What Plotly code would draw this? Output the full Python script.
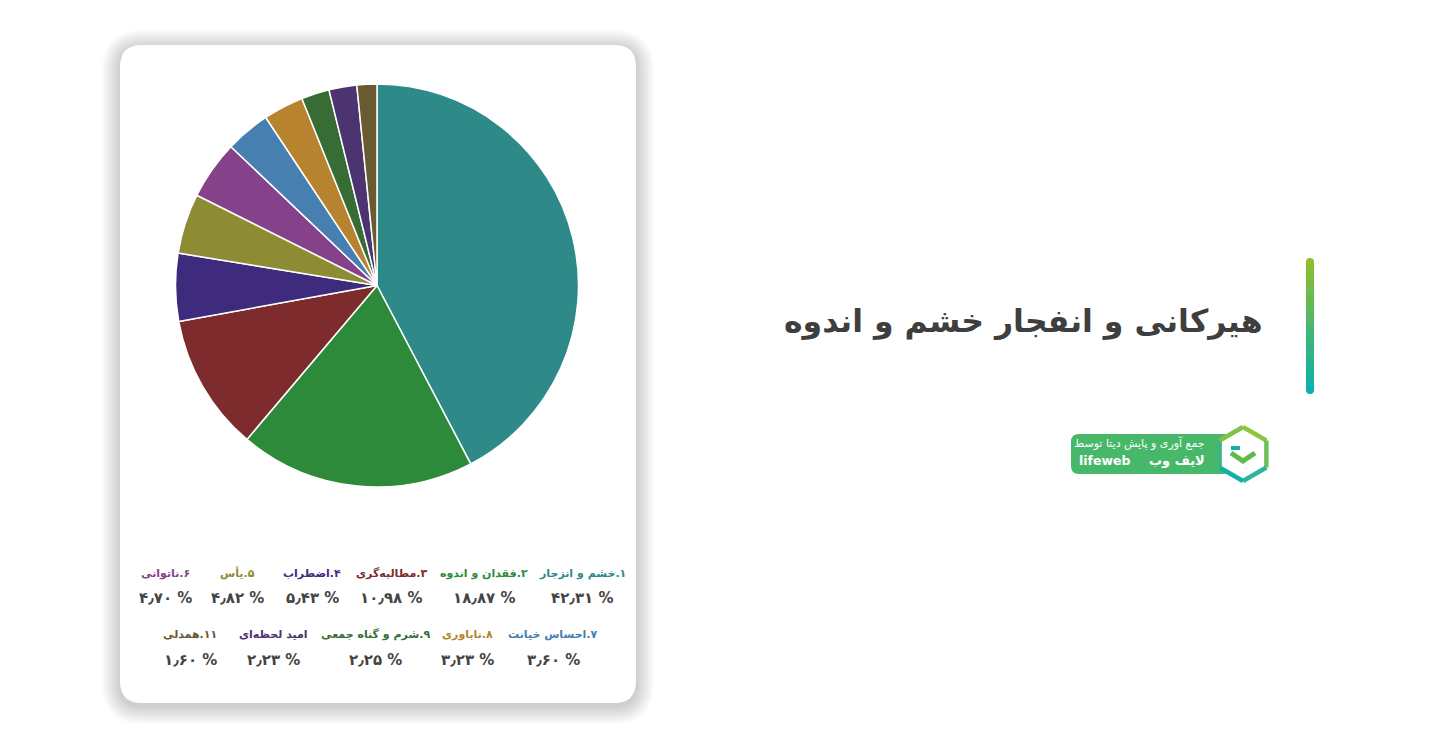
import math
import plotly.graph_objects as go

# ---------------- data ----------------
labels = ["۱.خشم و انزجار", "۲.فقدان و اندوه", "۳.مطالبه‌گری", "۴.اضطراب", "۵.یأس", "۶.ناتوانی",
          "۷.احساس خیانت", "۸.ناباوری", "۹.شرم و گناه جمعی", "امید لحظه‌ای", "۱۱.همدلی"]
values = [42.31, 18.87, 10.98, 5.43, 4.82, 4.70, 3.60, 3.23, 2.25, 2.23, 1.60]
title_text = "هیرکانی و انفجار خشم و اندوه"

# ---------------- styles ----------------
colors = ["#2E8A89", "#2E8A3B", "#7E2B2E", "#3F2B7D", "#8D8C35", "#86418B",
          "#467FB0", "#B7832F", "#376D34", "#4B346F", "#6A5A31"]
OFF = 8                      # default page body margin
W, H = 1430 - 2 * OFF, 748 - 2 * OFF
FONT = "DejaVu Sans, Noto Sans, sans-serif"

# legend layout (page pixel centres)
legend_x = [582, 484, 391, 312, 237, 165, 553, 467, 375, 273, 190]
legend_row = [0, 0, 0, 0, 0, 0, 1, 1, 1, 1, 1]
row_label_y = [573, 634]
row_value_y = [598, 660]

PER = str.maketrans("0123456789", "۰۱۲۳۴۵۶۷۸۹")


def fmt(v):
    return ("%.2f" % v).replace(".", "\u066B").translate(PER) + " %"


def rrect(x0, y0, x1, y1, r):
    return (f"M {x0+r},{y0} L {x1-r},{y0} Q {x1},{y0} {x1},{y0+r} L {x1},{y1-r} "
            f"Q {x1},{y1} {x1-r},{y1} L {x0+r},{y1} Q {x0},{y1} {x0},{y1-r} "
            f"L {x0},{y0+r} Q {x0},{y0} {x0+r},{y0} Z")


def lerp_col(c0, c1, t):
    a = [int(c0[i:i + 2], 16) for i in (1, 3, 5)]
    b = [int(c1[i:i + 2], 16) for i in (1, 3, 5)]
    return "#%02x%02x%02x" % tuple(round(a[k] + (b[k] - a[k]) * t) for k in range(3))


fig = go.Figure()

# pie: centre / radius in page pixels
cx, cy, rad = 377, 285.5, 201.5
fig.add_trace(go.Pie(
    labels=labels, values=values, sort=False, direction="clockwise", rotation=0,
    marker=dict(colors=colors, line=dict(color="white", width=1.5)),
    textinfo="none", hoverinfo="label+percent", showlegend=False,
    domain=dict(x=[(cx - rad - OFF) / W, (cx + rad - OFF) / W],
                y=[1 - (cy + rad - OFF) / H, 1 - (cy - rad - OFF) / H]),
))

shapes = []
# card shadow (soft, layered)
for k in range(12, 0, -1):
    grow = 1.5 * k
    shapes.append(dict(type="path", xref="x", yref="y", layer="below",
                       path=rrect(120 - grow, 45 - grow + 3, 636 + grow, 703 + grow + 3, 22 + grow),
                       fillcolor="rgba(0,0,0,0.017)", line=dict(width=0)))
shapes.append(dict(type="path", xref="x", yref="y", layer="below",
                   path=rrect(120, 45, 636, 703, 22), fillcolor="white", line=dict(width=0)))

# gradient bar
n = 44
y0, y1 = 262, 390
shapes.append(dict(type="path", xref="x", yref="y",
                   path=rrect(1306, 258, 1314, 266, 4), fillcolor="#8CBE2E", line=dict(width=0)))
shapes.append(dict(type="path", xref="x", yref="y",
                   path=rrect(1306, 386, 1314, 394, 4), fillcolor="#0AB0AA", line=dict(width=0)))
for i in range(n):
    ya = y0 + (y1 - y0) * i / n
    yb = y0 + (y1 - y0) * (i + 1) / n + 0.6
    shapes.append(dict(type="rect", xref="x", yref="y", x0=1306, x1=1314, y0=ya, y1=yb,
                       fillcolor=lerp_col("#8CBE2E", "#0AB0AA", i / (n - 1)), line=dict(width=0)))

# logo pill
shapes.append(dict(type="path", xref="x", yref="y",
                   path=rrect(1071, 434, 1232, 474, 8), fillcolor="#47B86A", line=dict(width=0)))
# hexagon
hcx, hcy, hr = 1243, 454, 27
pts = [(hcx + hr * math.cos(math.radians(a)), hcy + hr * math.sin(math.radians(a)))
       for a in (-90, -30, 30, 90, 150, 210)]
shapes.append(dict(type="path", xref="x", yref="y",
                   path="M " + " L ".join(f"{x},{y}" for x, y in pts) + " Z",
                   fillcolor="white", line=dict(width=0)))
edge_cols = ["#8CC63F", "#6CC05A", "#2DB49A", "#14AFA8", "#3FB57E", "#7CC348"]
for k in range(6):
    xa, ya_ = pts[k]
    xb, yb_ = pts[(k + 1) % 6]
    shapes.append(dict(type="line", xref="x", yref="y", x0=xa, y0=ya_, x1=xb, y1=yb_,
                       line=dict(color=edge_cols[k], width=4.5)))
# inner icon (chevron + bar)
shapes.append(dict(type="path", xref="x", yref="y",
                   path=f"M {hcx-12},{hcy-1} L {hcx},{hcy+7} L {hcx+12},{hcy-1}",
                   line=dict(color="#5DBB46", width=5)))
shapes.append(dict(type="line", xref="x", yref="y", x0=hcx - 12, y0=hcy - 6, x1=hcx - 3, y1=hcy - 6,
                   line=dict(color="#14AFA8", width=4)))

annotations = []
# title
annotations.append(dict(text="<b>" + title_text + "</b>", x=1265, y=321, xref="x", yref="y",
                        xanchor="right", yanchor="middle", showarrow=False,
                        font=dict(family=FONT, size=31.5, color="#3E3E3E")))
# logo texts
annotations.append(dict(text="\u200fجمع آوری و پایش دیتا توسط", x=1207, y=443, xref="x", yref="y",
                        xanchor="right", yanchor="middle", showarrow=False,
                        font=dict(family=FONT, size=11, color="white")))
annotations.append(dict(text="<b>\u200fلایف وب</b>", x=1207, y=460, xref="x", yref="y",
                        xanchor="right", yanchor="middle", showarrow=False,
                        font=dict(family=FONT, size=13, color="white")))
annotations.append(dict(text="<b>lifeweb</b>", x=1077, y=460, xref="x", yref="y",
                        xanchor="left", yanchor="middle", showarrow=False,
                        font=dict(family=FONT, size=12.5, color="white")))

# legend
for i, (lab, val) in enumerate(zip(labels, values)):
    r = legend_row[i]
    annotations.append(dict(text="<b>\u200f" + lab + "</b>", x=legend_x[i], y=row_label_y[r],
                            xref="x", yref="y", xanchor="center", yanchor="middle", showarrow=False,
                            font=dict(family=FONT, size=11, color=colors[i])))
    annotations.append(dict(text="<b>" + fmt(val) + "</b>", x=legend_x[i], y=row_value_y[r],
                            xref="x", yref="y", xanchor="center", yanchor="middle", showarrow=False,
                            font=dict(family=FONT, size=15, color="#444444")))

fig.update_layout(
    width=W, height=H, margin=dict(l=0, r=0, t=0, b=0),
    paper_bgcolor="white", plot_bgcolor="rgba(0,0,0,0)",
    xaxis=dict(range=[OFF, OFF + W], visible=False, fixedrange=True),
    yaxis=dict(range=[OFF + H, OFF], visible=False, fixedrange=True),
    shapes=shapes, annotations=annotations, showlegend=False,
)

fig.write_html("out.html")
